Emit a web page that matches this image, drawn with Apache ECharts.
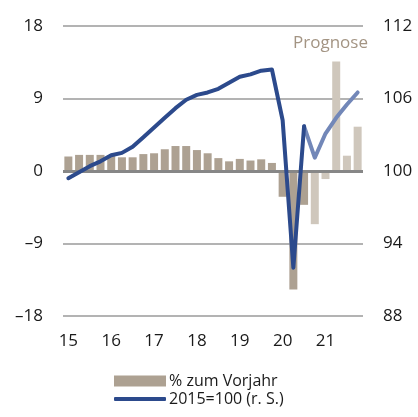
<!DOCTYPE html>
<html><head><meta charset="utf-8">
<script src="https://cdn.jsdelivr.net/npm/echarts@6/dist/echarts.min.js"></script>
<style>html,body{margin:0;padding:0;background:#fff}#c{width:418px;height:417px}</style>
</head><body><div id="c"></div>
<script>
const categories = ["15Q1","15Q2","15Q3","15Q4","16Q1","16Q2","16Q3","16Q4","17Q1","17Q2","17Q3","17Q4","18Q1","18Q2","18Q3","18Q4","19Q1","19Q2","19Q3","19Q4","20Q1","20Q2","20Q3","20Q4","21Q1","21Q2","21Q3","21Q4"];
const barValues = [1.8,2.0,2.0,2.0,1.9,1.7,1.7,2.1,2.2,2.7,3.1,3.1,2.6,2.2,1.6,1.2,1.5,1.3,1.45,1.0,-3.2,-14.7,-4.2,-6.6,-1.0,13.6,1.9,5.5];
const lineValues = [99.4,99.9,100.4,100.8,101.3,101.5,102.0,102.8,103.6,104.4,105.2,105.9,106.3,106.5,106.8,107.3,107.8,108.0,108.3,108.4,104.2,92.0,103.7,101.1,103.1,104.4,105.5,106.5];
const forecastStart = 22; // line forecast starts after this index
const barForecastStart = 23;
const leftTicks = [-18,-9,0,9,18];
const rightTicks = [88,94,100,106,112];
const seriesNames = ["% zum Vorjahr","2015=100 (r. S.)"];

const BAR = "#ADA192", BAR_F = "#CFC7BC", LINE = "#2C4A8C", LINE_F = "#7287B8";
const FONT = "'Open Sans', 'Noto Sans', sans-serif";

const barData = barValues.map((v,i)=>({value:v,itemStyle:{color:i>=barForecastStart?BAR_F:BAR}}));
const lineActual = lineValues.map((v,i)=> i<=forecastStart ? v : null);
const lineForecast = lineValues.map((v,i)=> i>=forecastStart ? v : null);

const chart = echarts.init(document.getElementById('c'), null, {renderer:'canvas'});
chart.setOption({
  animation:false,
  textStyle:{fontFamily:FONT},
  grid:{left:63,right:55,top:26,bottom:101,containLabel:false},
  legend:[{
    orient:'horizontal', left:114, top:373, padding:0,
    itemWidth:52, itemHeight:11, itemGap:4,
    textStyle:{fontSize:16,color:'#1a1a1a',fontFamily:FONT,padding:[0,0,0,-2]},
    data:[{name:seriesNames[0],icon:'rect'}]
  },{
    orient:'horizontal', left:114, top:391, padding:0,
    itemWidth:52, itemHeight:4, itemGap:4,
    textStyle:{fontSize:16,color:'#1a1a1a',fontFamily:FONT,padding:[0,0,0,-2]},
    data:[{name:seriesNames[1],icon:'roundRect',itemStyle:{color:LINE}}]
  }],
  xAxis:{
    type:'category', data:categories, boundaryGap:true,
    axisLine:{show:false}, axisTick:{show:false},
    axisLabel:{interval:3, margin:17, fontSize:17, color:'#1a1a1a', fontFamily:FONT,
      formatter:(v)=>v.slice(0,2)}
  },
  yAxis:[
    {type:'value',min:leftTicks[0],max:leftTicks[leftTicks.length-1],interval:9,
     axisLine:{show:false},axisTick:{show:false},
     axisLabel:{margin:20,fontSize:17,color:'#1a1a1a',fontFamily:FONT,
       formatter:(v)=> v<0 ? '\u2013'+Math.abs(v) : String(v)},
     splitLine:{lineStyle:{color:'#9a9a9a',width:1.5}}},
    {type:'value',min:rightTicks[0],max:rightTicks[rightTicks.length-1],interval:6,position:'right',
     axisLine:{show:false},axisTick:{show:false},
     axisLabel:{margin:20,fontSize:17,color:'#1a1a1a',fontFamily:FONT},
     splitLine:{show:false}}
  ],
  graphic:[{type:'text',left:293,top:35,style:{text:'Prognose',fontSize:17,fill:'#A39483',fontFamily:FONT}}],
  series:[
    {name:seriesNames[0],type:'bar',data:barData,barWidth:8,itemStyle:{color:BAR},z:2,
     markLine:{silent:true,symbol:'none',label:{show:false},z:3,
       lineStyle:{color:'#878787',width:3,type:'solid'},data:[{yAxis:0}]}},
    {name:seriesNames[1],type:'line',yAxisIndex:1,data:lineActual,symbol:'none',showSymbol:false,
     connectNulls:false,lineStyle:{color:LINE,width:4,cap:'round',join:'round'},itemStyle:{color:LINE},z:5},
    {name:'forecast',type:'line',yAxisIndex:1,data:lineForecast,symbol:'none',showSymbol:false,
     lineStyle:{color:LINE_F,width:4,cap:'round',join:'round'},itemStyle:{color:LINE_F},z:4}
  ]
});
</script></body></html>
